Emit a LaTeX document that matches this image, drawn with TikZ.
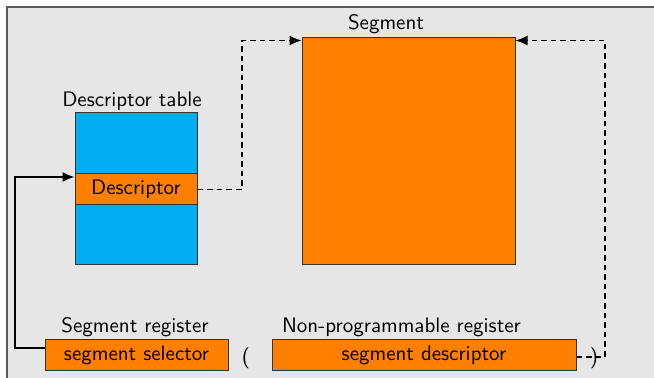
\documentclass[tikz,border=0pt]{standalone}
\usetikzlibrary{arrows.meta,calc}
\definecolor{segorange}{HTML}{FF8000}
\definecolor{tblcyan}{HTML}{00AEEF}
\definecolor{bggray}{HTML}{E6E6E6}
\definecolor{bgborder}{HTML}{5A5A5A}
\begin{document}
\begin{tikzpicture}[x=0.5pt,y=-0.5pt,
  every node/.style={font=\sffamily\fontsize{10.5}{12}\selectfont, text=black},
  box/.style={draw=black!80, line width=0.5pt, inner sep=0pt, anchor=center},
  obox/.style={box, fill=segorange},
  cbox/.style={box, fill=tblcyan},
  lbl/.style={inner sep=0pt, anchor=center},
  conn/.style={line width=0.75pt, draw=black},
  dconn/.style={conn, dash pattern=on 2.8pt off 2pt},
  tip/.style={-{Latex[length=6pt,width=5pt]}}
]
\useasboundingbox (0,0) rectangle (654,378);
\fill[bggray] (7,7) rectangle (670,395);
\draw[bgborder, line width=0.7pt] (7,395) -- (7,7) -- (670,7);

% descriptor table
\node[cbox, minimum width=61pt, minimum height=76pt] (dt) at (136,189) {};
\node[obox, minimum width=61pt, minimum height=15.5pt] (desc) at (136,189.5) {Descriptor};
\node[lbl] (dtl) at (132,101) {Descriptor table};

% segment
\node[obox, minimum width=106.5pt, minimum height=113.5pt] (seg) at (408.5,151.5) {};
\node[lbl] (segl) at (386,24) {Segment};

% registers
\node[obox, minimum width=91.5pt, minimum height=15.5pt] (sel) at (136.5,355.5) {segment selector};
\node[lbl] (sell) at (135,327) {Segment register};
\node[obox, minimum width=152pt, minimum height=15.5pt] (npd) at (424,355.5) {segment descriptor};
\node[lbl] (npdl) at (401.5,327) {Non-programmable register};
\node[lbl] (lp) at (246,358) {(};
\node[lbl] (rp) at (594,358) {)};

% connectors
\coordinate (selout) at ($(sel.west)+(0,-7.5)$);
\coordinate (descin) at ($(desc.west)+(0,-12.5)$);
\coordinate (c1) at (15,348);
\draw[conn, tip] (selout) -- (c1) |- (descin);

\coordinate (segin1) at ($(seg.north west)+(0,3)$);
\coordinate (c2) at (242,189.5);
\draw[dconn, tip] (desc.east) -- (c2) |- (segin1);

\coordinate (npdout) at ($(npd.east)+(0,1.5)$);
\coordinate (segin2) at ($(seg.north east)+(0,3)$);
\coordinate (c3) at (605,357);
\draw[dconn, tip] (npdout) -- (c3) |- (segin2);
\end{tikzpicture}
\end{document}
